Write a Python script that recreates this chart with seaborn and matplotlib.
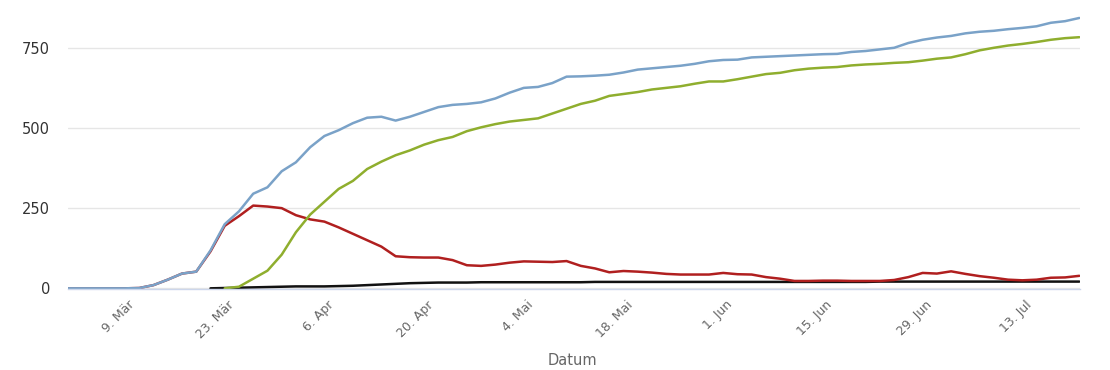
import numpy as np
import pandas as pd
import matplotlib
matplotlib.use("Agg")
import matplotlib.pyplot as plt
import seaborn as sns

# values every second day, 29 Feb 2020 .. 20 Jul 2020
nan = np.nan
dates = pd.date_range("2020-02-29", "2020-07-20", freq="2D")

infiziert = [0, 0, 0, 0, 0, 1, 10, 27, 46, 52,
             118, 200, 240, 295, 315, 365, 393, 440, 475, 493,
             515, 532, 535, 523, 535, 550, 565, 572, 575, 580,
             592, 610, 625, 628, 640, 660, 661, 663, 666, 673,
             682, 686, 690, 694, 700, 708, 712, 713, 720, 722,
             724, 726, 728, 730, 731, 737, 740, 745, 750, 765,
             775, 782, 787, 795, 800, 803, 808, 812, 817, 828,
             833, 843]

genesen = [nan, nan, nan, nan, nan, nan, nan, nan, nan, nan,
           nan, 0, 5, 30, 55, 105, 175, 230, 270, 310,
           335, 372, 395, 415, 430, 448, 462, 472, 490, 502,
           512, 520, 525, 530, 545, 560, 575, 585, 600, 606,
           612, 620, 625, 630, 638, 645, 645, 652, 660, 668,
           672, 680, 685, 688, 690, 695, 698, 700, 703, 705,
           710, 716, 720, 730, 742, 750, 757, 762, 768, 775,
           780, 783]

aktiv = [0, 0, 0, 0, 0, 1, 10, 27, 46, 52,
         115, 195, 225, 258, 255, 250, 228, 215, 208, 190,
         170, 150, 130, 100, 97, 96, 96, 88, 72, 70,
         74, 80, 84, 83, 82, 85, 70, 62, 50, 54,
         52, 49, 45, 43, 43, 43, 48, 44, 43, 35,
         30, 23, 23, 24, 24, 23, 23, 23, 26, 35,
         48, 46, 53, 45, 38, 33, 27, 25, 27, 33,
         34, 39]

verstorben = [nan, nan, nan, nan, nan, nan, nan, nan, nan, nan,
              0, 1, 2, 3, 4, 5, 6, 6, 6, 7,
              8, 10, 12, 14, 16, 17, 18, 18, 18, 19,
              19, 19, 19, 19, 19, 19, 19, 20, 20, 20,
              20, 20, 20, 20, 20, 20, 20, 20, 20, 20,
              20, 20, 20, 20, 20, 20, 20, 21, 21, 21,
              21, 21, 21, 21, 21, 21, 21, 21, 21, 21,
              21, 21]

tick_dates = ["2020-03-09", "2020-03-23", "2020-04-06", "2020-04-20", "2020-05-04",
              "2020-05-18", "2020-06-01", "2020-06-15", "2020-06-29", "2020-07-13"]
tick_labels = ["9. Mär", "23. Mär", "6. Apr", "20. Apr", "4. Mai",
               "18. Mai", "1. Jun", "15. Jun", "29. Jun", "13. Jul"]

df = pd.DataFrame({
    "Datum": dates,
    "Aktiv": aktiv,
    "Infiziert": infiziert,
    "Genesen": genesen,
    "Verstorben": verstorben,
})
long_df = df.melt(id_vars="Datum", var_name="Reihe", value_name="Fälle")

palette = {
    "Aktiv": "#b01f1f",
    "Infiziert": "#7aa2c8",
    "Genesen": "#8fae2e",
    "Verstorben": "#111111",
}

sns.set_style("white")
plt.rcParams["font.family"] = ["DejaVu Sans"]

fig = plt.figure(figsize=(11.1, 3.7), dpi=100)
ax = fig.add_axes([0.0613, 0.219, 0.9117, 0.781])

sns.lineplot(data=long_df, x="Datum", y="Fälle", hue="Reihe",
             hue_order=["Verstorben", "Aktiv", "Infiziert", "Genesen"],
             palette=palette, linewidth=1.8, legend=False, ax=ax)

start = pd.Timestamp("2020-02-29")
ax.set_xlim(start, start + pd.Timedelta(days=142.1))
ax.set_ylim(-2, 899)

ax.set_yticks([0, 250, 500, 750])
ax.yaxis.grid(True, color="#e6e6e6", linewidth=1)
ax.xaxis.grid(False)
ax.tick_params(axis="y", length=0, pad=13, labelsize=10.5, labelcolor="#333333")

ax.set_xticks(pd.to_datetime(tick_dates))
ax.set_xticklabels(tick_labels, rotation=45, ha="right", va="center",
                   rotation_mode="anchor")
ax.tick_params(axis="x", length=9, width=1, color="#ccd6eb", pad=1,
               labelsize=9, labelcolor="#666666")

for side in ["top", "right", "left"]:
    ax.spines[side].set_visible(False)
ax.spines["bottom"].set_color("#ccd6eb")
ax.spines["bottom"].set_linewidth(1)

ax.set_ylabel("")
ax.set_xlabel("Datum", fontsize=10.5, color="#666666")
ax.xaxis.label.set_va("center")
ax.xaxis.set_label_coords(0.498, -0.249)

fig.savefig("out.png", dpi=100)
